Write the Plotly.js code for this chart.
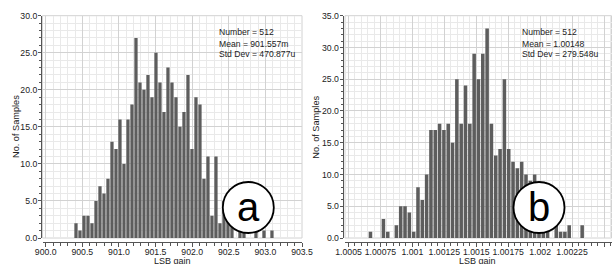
<!DOCTYPE html>
<html><head><meta charset="utf-8">
<script src="https://cdn.plot.ly/plotly-3.0.1.min.js"></script>
<style>html,body{margin:0;padding:0;background:#fff}#chart{width:614px;height:264px}</style>
</head><body><div id="chart"></div>
<script>
// ---- data ----
const countsA = [2,1,3,3,2,5,7,6,8,13, 12,16,10,16,18,27,21,20,22,19, 25,21,17,23,21,19,15,17,22,12, 19,18,8,11,3,11,2,5,4,3, 0,1,1,0,0,1,0,1,0,1];
const spanA = [900.386, 903.117];          // histogram span (sample min / max)
const countsB = [1,0,0,3,1,0,2,5,5,4, 1,8,6,10,17,17,18,17,18,15, 25,18,24,18,29,25,29,33,18,13, 14,25,14,12,11,12,10,9,10,3, 2,2,0,2,1,1,2,0,0,2];
const spanB = [1.000655, 1.002346];
const statsA = ["Number = 512", "Mean = 901.557m", "Std Dev = 470.877u"];
const statsB = ["Number = 512", "Mean = 1.00148", "Std Dev = 279.548u"];
const panelLabels = ["a", "b"];
const xTitle = "LSB gain";
const yTitle = "No. of Samples";

// ---- helpers ----
const W = 614, H = 264;
const px = v => v / W, py = v => (H - v) / H;
function centers(counts, span) {
  const w = (span[1] - span[0]) / counts.length;
  return counts.map((_, i) => span[0] + (i + 0.5) * w);
}
const FONT = '"Liberation Sans", Arial, sans-serif';
const FS = 8.7;
const TXT = '#222222';
const barColor = '#5d5d5d';
const axisColor = '#555555';
const gridMajor = '#d2d2d2', gridMinor = '#e9e9e9';

const traces = [
  {type: 'bar', x: centers(countsA, spanA), y: countsA, xaxis: 'x', yaxis: 'y',
   marker: {color: barColor, line: {width: 0}}, hoverinfo: 'x+y'},
  {type: 'bar', x: centers(countsB, spanB), y: countsB, xaxis: 'x2', yaxis: 'y2',
   marker: {color: barColor, line: {width: 0}}, hoverinfo: 'x+y'}
];

function xAxis(domain, range, dtick, tick0, minorDtick, fmt) {
  return {
    domain: domain, range: range, anchor: 'free', position: py(242),
    tickmode: 'linear', dtick: dtick, tick0: tick0, tickformat: fmt, tickangle: 0,
    ticks: 'outside', ticklen: 4, tickcolor: axisColor, tickwidth: 1, ticklabelstandoff: -2,
    showline: true, linecolor: axisColor, linewidth: 1,
    showgrid: true, gridcolor: gridMajor, gridwidth: 1, zeroline: false,
    minor: {dtick: minorDtick, tick0: tick0, showgrid: true, gridcolor: gridMinor, ticks: 'outside', ticklen: 2.5, tickcolor: axisColor},
    tickfont: {family: FONT, size: FS, color: TXT},
    automargin: false, fixedrange: true
  };
}
function yAxis(domain, range, pos) {
  return {
    domain: domain, range: range, anchor: 'free', position: pos,
    tickmode: 'linear', dtick: 5, tick0: 0, tickformat: '.1f',
    ticks: 'outside', ticklen: 3, tickcolor: axisColor, ticklabelstandoff: -1,
    showline: true, linecolor: axisColor, linewidth: 1,
    showgrid: true, gridcolor: gridMajor, zeroline: false,
    minor: {dtick: 1, showgrid: true, gridcolor: gridMinor, ticks: 'outside', ticklen: 2, tickcolor: axisColor},
    tickfont: {family: FONT, size: FS, color: TXT},
    automargin: false, fixedrange: true
  };
}

const yDom = [py(238), py(15.7)];
const layout = {
  width: W, height: H, margin: {l: 0, r: 0, t: 0, b: 0},
  paper_bgcolor: '#ffffff', plot_bgcolor: '#ffffff', showlegend: false, bargap: 0.18,
  font: {family: FONT, size: FS, color: TXT},
  xaxis: xAxis([px(42.5), px(302)], [899.956, 903.5], 0.5, 900, 0.1, '.1f'),
  yaxis: yAxis(yDom, [0, 30], px(41)),
  xaxis2: xAxis([px(345), px(611.5)], [1.0004726, 1.0025587], 0.00025, 1.0005, 0.00005, ''),
  yaxis2: yAxis(yDom, [0, 35], px(342.7)),
  shapes: [
    {type: 'rect', xref: 'x domain', yref: 'y domain', x0: 0, x1: 1, y0: 0, y1: 1, line: {color: gridMajor, width: 1}, layer: 'below'},
    {type: 'rect', xref: 'x2 domain', yref: 'y2 domain', x0: 0, x1: 1, y0: 0, y1: 1, line: {color: gridMajor, width: 1}, layer: 'below'},
    {type: 'circle', xref: 'paper', yref: 'paper', x0: px(222.8), x1: px(273.8), y0: py(233), y1: py(182), line: {color: '#000', width: 1.8}, fillcolor: '#fff', layer: 'above'},
    {type: 'circle', xref: 'paper', yref: 'paper', x0: px(513.5), x1: px(564.5), y0: py(233), y1: py(182), line: {color: '#000', width: 1.8}, fillcolor: '#fff', layer: 'above'}
  ],
  annotations: []
};
const lineY = [32.5, 43.5, 54.5];
statsA.forEach((t, i) => layout.annotations.push({xref: 'paper', yref: 'paper', x: px(216.7), y: py(lineY[i]), xanchor: 'left', yanchor: 'middle', text: t, showarrow: false, font: {family: FONT, size: 8.6, color: TXT}}));
statsB.forEach((t, i) => layout.annotations.push({xref: 'paper', yref: 'paper', x: px(520), y: py(lineY[i]), xanchor: 'left', yanchor: 'middle', text: t, showarrow: false, font: {family: FONT, size: 8.6, color: TXT}}));
[[248.3, panelLabels[0]], [539, panelLabels[1]]].forEach(([cx, t]) => layout.annotations.push({xref: 'paper', yref: 'paper', x: px(cx), y: py(206.5), xanchor: 'center', yanchor: 'middle', text: t, showarrow: false, font: {family: FONT, size: 40, color: '#000'}}));
// axis titles (the reference clips these at the bottom edge)
[172, 477.5].forEach(cx => layout.annotations.push({xref: 'paper', yref: 'paper', x: px(cx), y: py(261), xanchor: 'center', yanchor: 'middle', text: xTitle, showarrow: false, font: {family: FONT, size: 9, color: TXT}}));
[16, 315.7].forEach(cx => layout.annotations.push({xref: 'paper', yref: 'paper', x: px(cx), y: py(127), xanchor: 'center', yanchor: 'middle', textangle: -90, text: yTitle, showarrow: false, font: {family: FONT, size: 9.2, color: TXT}}));

Plotly.newPlot('chart', traces, layout, {displayModeBar: false, staticPlot: true});
</script>
</body></html>
